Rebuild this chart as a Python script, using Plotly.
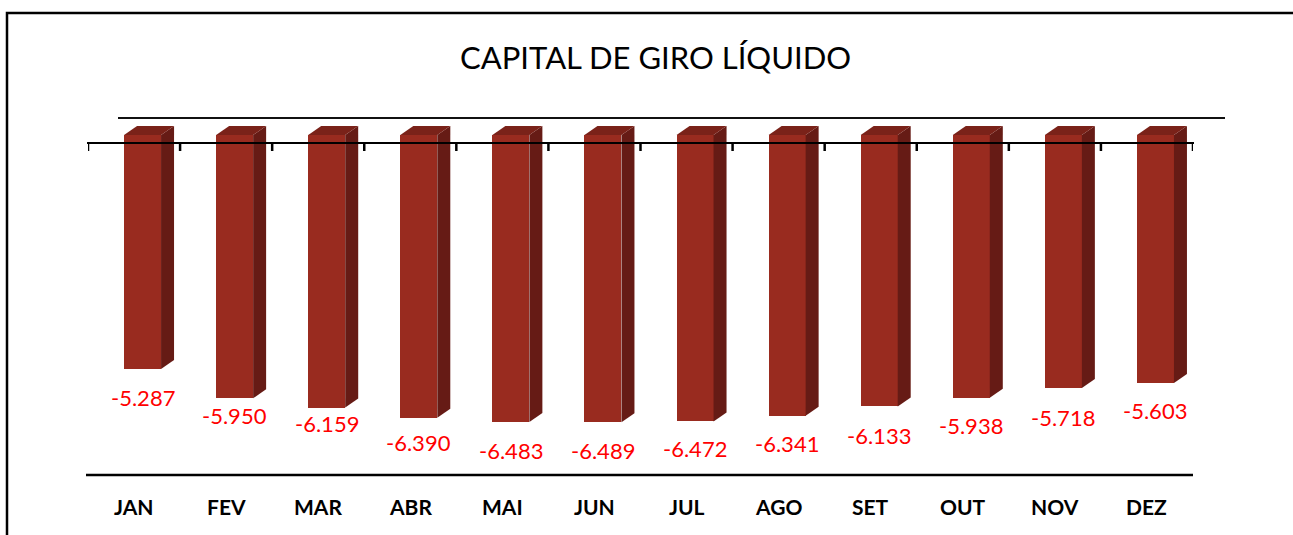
import plotly.graph_objects as go

# ---- data ----
months = ["JAN", "FEV", "MAR", "ABR", "MAI", "JUN", "JUL", "AGO", "SET", "OUT", "NOV", "DEZ"]
values = [-5.287, -5.950, -6.159, -6.390, -6.483, -6.489, -6.472, -6.341, -6.133, -5.938, -5.718, -5.603]
value_labels = ["-5.287", "-5.950", "-6.159", "-6.390", "-6.483", "-6.489",
                "-6.472", "-6.341", "-6.133", "-5.938", "-5.718", "-5.603"]
title = "CAPITAL DE GIRO LÍQUIDO"

# ---- style / geometry ----
W, H = 1293, 535
ML, MR, MT, MB = 88, 100, 100, 60
PW, PH = W - ML - MR, H - MT - MB
n = len(months)
px_x = PW / n                 # pixels per category unit
px_y = 44.26                  # pixels per value unit
y_max = (135 - MT) / px_y
y_min = y_max - PH / px_y

FRONT = "#992B1F"
SIDE = "#661B15"
TOP = "#7A2219"
bar_off = -10 / px_x
bar_w = 37 / px_x
dx = 13 / px_x
dy = 9 / px_y
label_gap = [28, 17, 16, 25, 29, 28, 27, 28, 29, 28, 29, 28]  # px below bar end
FONT = "Lato"

def paper_x(px):
    return (px - ML) / PW

def paper_y(py):
    return (H - MB - py) / PH

fig = go.Figure()

xs = list(range(n))
# front faces
fig.add_trace(go.Bar(x=xs, y=values, base=0, width=bar_w, offset=bar_off,
                     marker=dict(color=FRONT, line=dict(width=0)),
                     hoverinfo="skip", showlegend=False))

# side and top faces derived from values
for i, v in enumerate(values):
    x0 = i + bar_off
    x1 = x0 + bar_w
    fig.add_trace(go.Scatter(x=[x1, x1 + dx, x1 + dx, x1, x1], y=[0, dy, v + dy, v, 0],
                             fill="toself", fillcolor=SIDE, mode="lines",
                             line=dict(width=0, color=SIDE), hoverinfo="skip", showlegend=False))
    fig.add_trace(go.Scatter(x=[x0, x0 + dx, x1 + dx, x1, x0], y=[0, dy, dy, 0, 0],
                             fill="toself", fillcolor=TOP, mode="lines",
                             line=dict(width=0, color=TOP), hoverinfo="skip", showlegend=False))

shapes = []
# frame
shapes.append(dict(type="rect", xref="paper", yref="paper",
                   x0=paper_x(7), x1=paper_x(1310), y0=paper_y(560), y1=paper_y(13),
                   line=dict(color="black", width=2.5), layer="below"))
# back floor line
shapes.append(dict(type="line", xref="paper", yref="paper",
                   x0=paper_x(118), x1=paper_x(1225), y0=paper_y(118), y1=paper_y(118),
                   line=dict(color="#111111", width=2), layer="below"))
# front axis line
shapes.append(dict(type="line", xref="paper", yref="paper",
                   x0=paper_x(87), x1=paper_x(1194), y0=paper_y(143), y1=paper_y(143),
                   line=dict(color="black", width=2), layer="above"))
for k in range(n + 1):
    shapes.append(dict(type="line", xref="x", yref="paper",
                       x0=k - 0.5, x1=k - 0.5, y0=paper_y(143), y1=paper_y(151),
                       line=dict(color="black", width=2.5), layer="above"))
# bottom line
shapes.append(dict(type="line", xref="paper", yref="paper",
                   x0=paper_x(86), x1=paper_x(1193), y0=paper_y(475), y1=paper_y(475),
                   line=dict(color="black", width=2.5), layer="above"))

annotations = []
annotations.append(dict(text=title, xref="paper", yref="paper", x=paper_x(655), y=paper_y(57),
                        xanchor="center", yanchor="middle", showarrow=False,
                        font=dict(family=FONT, size=31, color="black")))
for i, (m, v, lab) in enumerate(zip(months, values, value_labels)):
    annotations.append(dict(text=f"<b>{m}</b>", xref="x", yref="paper", x=i, y=paper_y(506),
                            xanchor="center", yanchor="middle", showarrow=False,
                            font=dict(family=FONT, size=21, color="black")))
    annotations.append(dict(text=lab, xref="x", yref="y", x=i + bar_off + bar_w / 2, y=v,
                            yshift=-label_gap[i], xanchor="center", yanchor="middle",
                            showarrow=False, font=dict(family=FONT, size=22, color="#FF0000")))

fig.update_layout(
    width=W, height=H,
    margin=dict(l=ML, r=MR, t=MT, b=MB),
    paper_bgcolor="white", plot_bgcolor="rgba(0,0,0,0)",
    xaxis=dict(range=[-0.5, n - 0.5], visible=False, fixedrange=True),
    yaxis=dict(range=[y_min, y_max], visible=False, fixedrange=True),
    shapes=shapes, annotations=annotations, bargap=0,
)

fig.write_html("out.html", config={"displayModeBar": False},
               post_script="document.body.style.margin='0';document.body.style.overflow='hidden';")
